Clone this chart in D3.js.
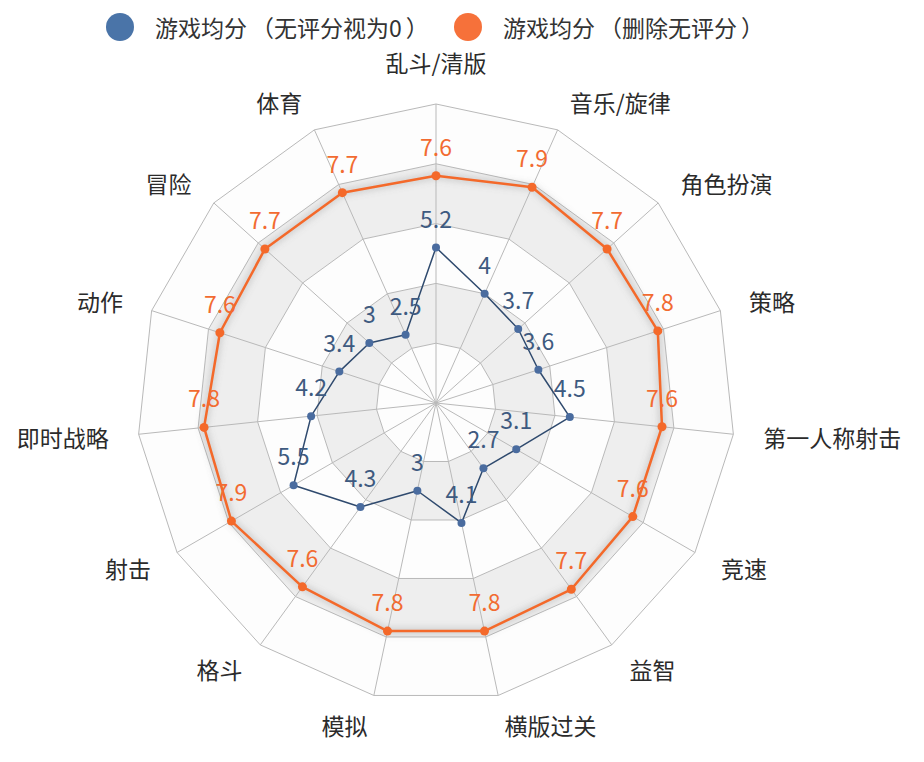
<!DOCTYPE html>
<html>
<head>
<meta charset="utf-8">
<script src="https://cdn.jsdelivr.net/npm/d3@7"></script>
<style>
  html, body { margin: 0; padding: 0; background: #fff; }
  svg { display: block; font-family: "Noto Sans CJK SC", "Noto Sans", sans-serif; }
</style>
</head>
<body>
<svg id="chart" width="924" height="762"></svg>
<script>
// ---- data ----
const categories = ["乱斗/清版", "音乐/旋律", "角色扮演", "策略", "第一人称射击", "竞速", "益智",
  "横版过关", "模拟", "格斗", "射击", "即时战略", "动作", "冒险", "体育"];
const seriesNames = ["游戏均分（无评分视为0）", "游戏均分（删除无评分）"];
const avgZero = [5.2, 4, 3.7, 3.6, 4.5, 3.1, 2.7, 4.1, 3, 4.3, 5.5, 4.2, 3.4, 3, 2.5];
const avgRated = [7.6, 7.9, 7.7, 7.8, 7.6, 7.6, 7.7, 7.8, 7.8, 7.6, 7.9, 7.8, 7.6, 7.7, 7.7];
const maxValue = 10;
const ringLevels = [2, 4, 6, 8, 10];

// ---- layout ----
const cx = 436, cy = 403, R = 299;
const FS = 23;
const svg = d3.select("#chart");
const n = categories.length;
const rScale = d3.scaleLinear().domain([0, maxValue]).range([0, R]);
const angle = d3.scaleLinear().domain([0, n]).range([0, 2 * Math.PI]);
const pt = (i, r) => [cx + r * Math.sin(angle(i)), cy - r * Math.cos(angle(i))];

const defs = svg.append("defs");
const f = defs.append("filter").attr("id", "glow").attr("x", "-20%").attr("y", "-20%").attr("width", "140%").attr("height", "140%");
f.append("feGaussianBlur").attr("stdDeviation", 3);

// split areas (rings)
const g = svg.append("g");
const ringColors = ["#fdfdfd", "#eeeeee"];
const polyPath = r => "M" + d3.range(n).map(i => pt(i, r).join(",")).join("L") + "Z";
for (let k = ringLevels.length - 1; k >= 0; k--) {
  const rOut = rScale(ringLevels[k]);
  const rIn = k > 0 ? rScale(ringLevels[k - 1]) : 0;
  g.append("path")
    .attr("d", polyPath(rOut) + (rIn > 0 ? polyPath(rIn) : ""))
    .attr("fill-rule", "evenodd")
    .attr("fill", ringColors[k % 2]);
}
// split lines
ringLevels.forEach(v => {
  g.append("path").attr("d", polyPath(rScale(v))).attr("fill", "none")
    .attr("stroke", "#b9b9b9").attr("stroke-width", 1);
});
// axis lines
categories.forEach((c, i) => {
  const [x, y] = pt(i, R);
  g.append("line").attr("x1", cx).attr("y1", cy).attr("x2", x).attr("y2", y)
    .attr("stroke", "#b9b9b9").attr("stroke-width", 1);
});

// axis names
categories.forEach((c, i) => {
  const a = angle(i);
  const dx = Math.sin(a), dy = -Math.cos(a);
  let [x, y] = pt(i, R + 30);
  let anchor = "middle";
  if (dx > 0.01) anchor = "start"; else if (dx < -0.01) anchor = "end";
  if (Math.abs(dx) <= 0.01) y += dy * 12;
  svg.append("text").attr("x", x).attr("y", y)
    .attr("text-anchor", anchor).attr("dominant-baseline", "central")
    .attr("font-size", FS).attr("fill", "#2b2b2b").text(c);
});

// series
const line = d3.line().curve(d3.curveLinearClosed);
function drawSeries(values, opts) {
  const pts = values.map((v, i) => pt(i, rScale(v)));
  const s = svg.append("g");
  if (opts.halo) {
    s.append("path").attr("d", line(pts)).attr("fill", "none")
      .attr("stroke", "rgba(120,120,120,0.25)").attr("stroke-width", 7)
      .attr("filter", "url(#glow)");
  }
  s.append("path").attr("d", line(pts)).attr("fill", "none")
    .attr("stroke", opts.line).attr("stroke-width", opts.width).attr("stroke-linejoin", "round");
  s.selectAll("circle.p").data(pts).enter().append("circle")
    .attr("cx", d => d[0]).attr("cy", d => d[1]).attr("r", opts.dot).attr("fill", opts.color);
  s.selectAll("text.v").data(values).enter().append("text")
    .attr("x", (d, i) => pts[i][0]).attr("y", (d, i) => pts[i][1] - 20)
    .attr("text-anchor", "middle").attr("font-size", FS).attr("fill", opts.label)
    .text(d => d);
}
drawSeries(avgRated, { line: "#f4692a", color: "#f4692a", label: "#f26b31", width: 2.5, dot: 4.5, halo: true });
drawSeries(avgZero, { line: "#2f4a6e", color: "#4a6c9f", label: "#3e5a80", width: 1.5, dot: 4, halo: false });

// legend
const legendColors = ["#4a74a8", "#f6713a"];
const legendX = [120, 468];
seriesNames.forEach((name, i) => {
  svg.append("circle").attr("cx", legendX[i]).attr("cy", 27).attr("r", 14).attr("fill", legendColors[i]);
  const t = svg.append("text").attr("x", legendX[i] + 35).attr("y", 27)
    .attr("dominant-baseline", "central").attr("font-size", FS).attr("fill", "#333");
  name.split(/([（）])/).filter(p => p.length).forEach(p => {
    const isParen = p === "（" || p === "）";
    t.append("tspan").attr("dx", isParen ? 4 : (p.length ? 0 : 0)).text(p);
    if (isParen) t.append("tspan").attr("dx", 3).text("");
  });
});
</script>
</body>
</html>
